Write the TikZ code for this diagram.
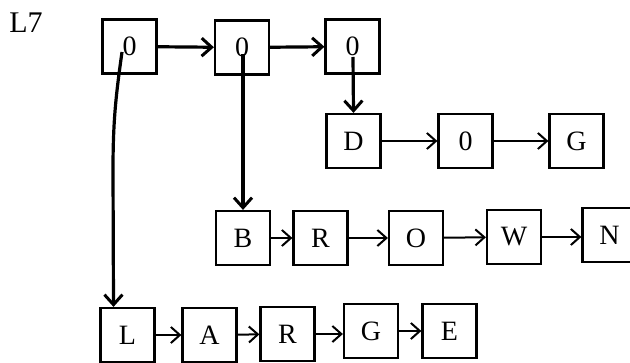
\documentclass[tikz,border=0pt]{standalone}
\usepackage{fontspec}
\setmainfont{Liberation Serif}
\usetikzlibrary{arrows.meta}
\begin{document}
\begin{tikzpicture}[x=0.5pt,y=-0.5pt,
  cell/.style={draw, line width=1.1pt, minimum width=27pt, minimum height=27pt,
    inner sep=0pt, font=\fontsize{14}{14}\selectfont},
  link/.style={line width=1pt, -{Straight Barb[length=4.5pt,width=8pt,line width=1pt]}},
  bold link/.style={line width=1.6pt, -{Straight Barb[length=5pt,width=9pt,line width=1.5pt]}}]
\clip (0,0) rectangle (630,363);
\useasboundingbox (0,0) rectangle (630,363);
% label
\node[font=\fontsize{15}{15}\selectfont] (lbl) at (26,23) {L7};
% top list of pointers
\node[cell] (p1) at (129.5,46.5) {0};
\node[cell] (p2) at (242,47.5) {0};
\node[cell] (p3) at (352.5,46.5) {0};
% DOG
\node[cell] (d) at (353.5,141) {D};
\node[cell] (o) at (465.5,141) {0};
\node[cell] (g) at (576.5,141) {G};
% BROWN
\node[cell] (b) at (243,238) {B};
\node[cell] (r) at (320.5,238) {R};
\node[cell] (o2) at (416,238) {O};
\node[cell] (w) at (514,237) {W};
\node[cell] (n) at (609.5,235) {N};
% LARGE
\node[cell] (l) at (127.5,335) {L};
\node[cell] (a) at (209.5,335) {A};
\node[cell] (r2) at (287.5,334) {R};
\node[cell] (g2) at (371,331) {G};
\node[cell] (e) at (449.5,331) {E};
% pointer sources inside the top cells
\coordinate (s1) at (122,52);
\coordinate (s2) at (243,54);
\coordinate (s3) at (353,57);
% top row links
\draw[bold link] (p1) -- (p2);
\draw[bold link] (p2) -- (p3);
% sublist pointers
\draw[bold link] (s1) .. controls (116,95) and (113,120) .. (113,170) -- ([xshift=-7pt]l.north);
\draw[bold link] (s2) -- (b.north);
\draw[bold link] (s3) -- (d.north);
% DOG links
\draw[link] (d) -- (o);
\draw[link] (o) -- (g);
% BROWN links
\draw[link] (b) -- (r);
\draw[link] (r) -- (o2);
\draw[link] (o2) -- (w);
\draw[link] (w.east) -- (w.east -| n.west);
% LARGE links
\draw[link] (l) -- (a);
\draw[link] (a) -- (r2);
\draw[link] (r2.east) -- (r2.east -| g2.west);
\draw[link] (g2) -- (e);
\end{tikzpicture}
\end{document}
